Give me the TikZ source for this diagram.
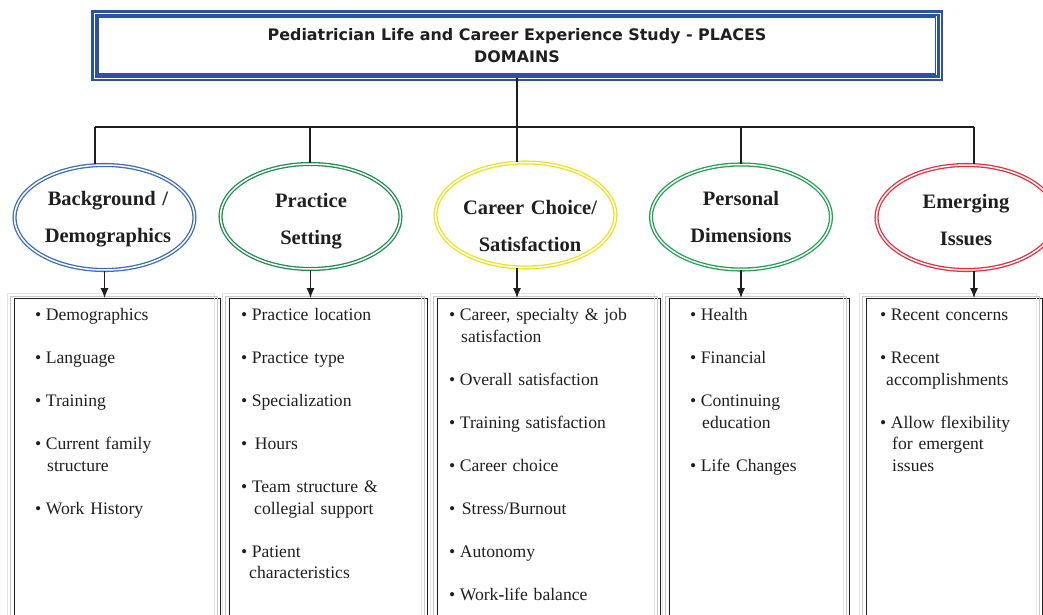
\documentclass[tikz,border=0pt]{standalone}
\usepackage{fontspec}
\setmainfont{Liberation Serif}
\newfontfamily\headfont{DejaVu Sans}
\usetikzlibrary{calc, arrows.meta, positioning, shapes.geometric}
\definecolor{titleBlue}{RGB}{44,82,160}
\definecolor{domBlue}{RGB}{58,108,186}
\definecolor{domGreen}{RGB}{30,140,80}
\definecolor{domYellow}{RGB}{238,226,30}
\definecolor{domLime}{RGB}{32,160,78}
\definecolor{domRed}{RGB}{228,48,60}
\definecolor{lineBlack}{gray}{0.12}
\newcommand{\itemgap}{\\[21.5pt]}
\newcommand{\bul}{\textbullet\hspace*{4.5pt}}

\begin{document}
\begin{tikzpicture}[x=1pt, y=-1pt,
    domain/.style={ellipse, draw=#1, double=white, line width=1.3pt, double distance=1.5pt,
        minimum width=180pt, minimum height=105pt, inner sep=0pt},
    domtext/.style={font=\fontsize{20.5}{37.5}\selectfont\bfseries, text width=170pt,
        align=center, anchor=base, inner sep=0pt, text=lineBlack},
    itembox/.style={draw=lineBlack, line width=1pt, minimum width=#1, minimum height=340pt,
        anchor=north west, inner sep=0pt, outer sep=0pt},
    shade/.style={draw=gray!#1, line width=0.9pt},
    items/.style={font=\fontsize{17.6}{21.5}\selectfont, text width=190pt, align=left,
        anchor=base west, inner sep=0pt, text=lineBlack},
    link/.style={draw=lineBlack, line width=1.1pt},
    arr/.style={link, -{Latex[length=10pt, width=8pt]}}]
    \useasboundingbox (0,0) rectangle (1043,615);

    % Title
    \node[draw=titleBlue, double=white, line width=2.4pt, double distance=0.9pt,
        minimum width=846pt, minimum height=65pt, inner sep=0pt, outer sep=0pt,
        font=\headfont\bfseries\fontsize{15.9}{22.7}\selectfont, align=center, text=lineBlack]
        (title) at (517,45.5) {Pediatrician Life and Career Experience Study - PLACES\\DOMAINS};
    \draw[titleBlue, line width=1.1pt] ($(title.north west)+(4,4)$) rectangle ($(title.south east)+(-4.5,-4)$);

    % Domains
    \node[domain=domBlue] (e1) at (104.5,217.5) {};
    \node[domain=domGreen] (e2) at (310.5,216.5) {};
    \node[domain=domYellow] (e3) at (525.5,215) {};
    \node[domain=domLime] (e4) at (741,217) {};
    \node[domain=domRed] (e5) at (966.5,217.5) {};

    \node[domtext] (t1) at (108,205) {Background /\\Demographics};
    \node[domtext] (t2) at (311,207) {Practice\\Setting};
    \node[domtext] (t3) at (530,214) {Career Choice/\\Satisfaction};
    \node[domtext] (t4) at (741,205) {Personal\\Dimensions};
    \node[domtext] (t5) at (966,208) {Emerging\\Issues};

    % Tree
    \coordinate (hub) at (517,127);
    \coordinate (j1) at (95,127);
    \coordinate (j2) at (310,127);
    \coordinate (j4) at (741,127);
    \coordinate (j5) at (974,127);
    \draw[link] (title.south) -- (hub);
    \draw[link] (j1) -- (j5);
    \draw[link] (j1) -- (j1 |- e1.north);
    \draw[link] (j2) -- (j2 |- e2.north);
    \draw[link] (hub) -- (hub |- e3.north);
    \draw[link] (j4) -- (j4 |- e4.north);
    \draw[link] (j5) -- (j5 |- e5.north);

    % Item boxes
    \node[itembox=206pt] (b1) at (14,298) {};
    \node[itembox=198pt] (b2) at (229,298) {};
    \node[itembox=223pt] (b3) at (437,298) {};
    \node[itembox=180pt] (b4) at (669,298) {};
    \node[itembox=176pt] (b5) at (866,298) {};
    \foreach \b in {b1,b2,b3,b4,b5} {
        \draw[shade=20] ($(\b.north west)+(-7,-5)$) rectangle ($(\b.south east)+(-6,0)$);
        \draw[shade=45] ($(\b.north west)+(-4,-2)$) rectangle ($(\b.south east)+(-3,0)$);
    }

    \draw[arr] (e1.south) -- (e1.south |- b1.north);
    \draw[arr] (e2.south) -- (e2.south |- b2.north);
    \draw[arr] (hub |- e3.south) -- (hub |- b3.north);
    \draw[arr] (e4.south) -- (e4.south |- b4.north);
    \draw[arr] (j5 |- e5.south) -- (j5 |- b5.north);

    % Items
    \node[items] (l1) at (35,320.5) {\bul Demographics\itemgap
        \bul Language\itemgap
        \bul Training\itemgap
        \bul Current family\\\hspace*{12pt}structure\itemgap
        \bul Work History};
    \node[items] (l2) at (241,320.5) {\bul Practice location\itemgap
        \bul Practice type\itemgap
        \bul Specialization\itemgap
        \textbullet\hspace*{7.5pt}Hours\itemgap
        \bul Team structure \&\\\hspace*{13pt}collegial support\itemgap
        \bul Patient\\\hspace*{8pt}characteristics};
    \node[items] (l3) at (449,320.5) {\bul Career, specialty \& job\\\hspace*{12pt}satisfaction\itemgap
        \bul Overall satisfaction\itemgap
        \bul Training satisfaction\itemgap
        \bul Career choice\itemgap
        \textbullet\hspace*{6.5pt}Stress/Burnout\itemgap
        \bul Autonomy\itemgap
        \bul Work\textbf{-}life balance};
    \node[items] (l4) at (690,320.5) {\bul Health\itemgap
        \bul Financial\itemgap
        \bul Continuing\\\hspace*{12pt}education\itemgap
        \bul Life Changes};
    \node[items] (l5) at (880,320.5) {\bul Recent concerns\itemgap
        \bul Recent\\\hspace*{6pt}accomplishments\itemgap
        \bul Allow flexibility\\\hspace*{12pt}for emergent\\\hspace*{12pt}issues};
\end{tikzpicture}
\end{document}
